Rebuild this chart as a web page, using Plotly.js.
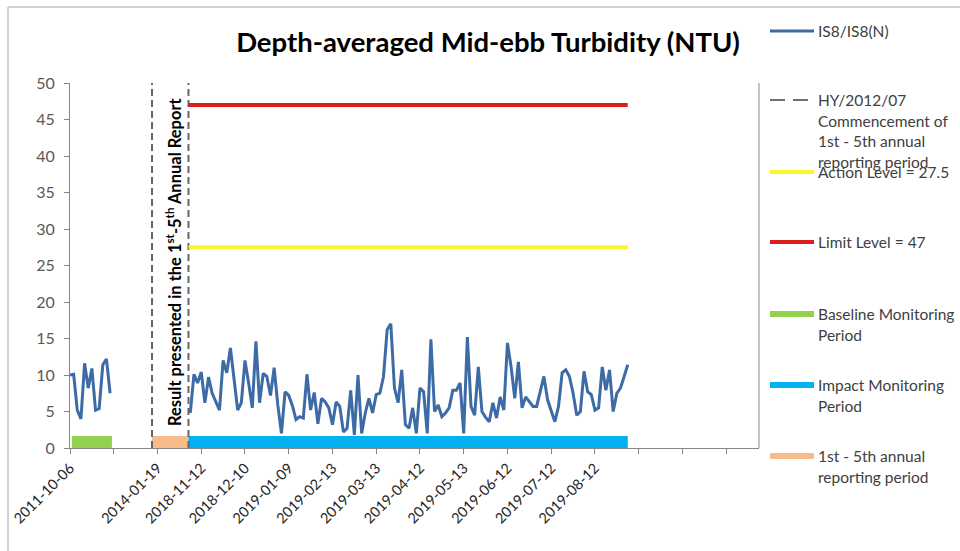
<!DOCTYPE html>
<html>
<head>
<meta charset="utf-8">
<script src="https://cdn.plot.ly/plotly-3.0.1.min.js"></script>
<style>html,body{margin:0;padding:0;background:#fff}#chart{width:960px;height:551px}</style>
</head>
<body>
<div id="chart"></div>
<script>
// ---- data ----
const tickLabels = ['2011-10-06','','2014-01-19','2018-11-12','2018-12-10','2019-01-09','2019-02-13',
  '2019-03-13','2019-04-12','2019-05-13','2019-06-12','2019-07-12','2019-08-12','','',''];
const categoriesPerTick = 12;
const categoryCount = 189;

const baselineStart = 0;
const baselineValues = [10.0, 10.1, 5.2, 4.0, 11.6, 8.2, 10.9, 5.2, 5.4, 11.4, 12.2, 7.5];

const impactStart = 33;
const impactValues = [
  4.8, 10.1, 8.9, 10.4, 6.2, 9.7, 7.5, 6.3, 5.2, 12.0,
  10.3, 13.7, 9.0, 5.2, 6.2, 12.0, 8.9, 5.5, 14.6, 6.2,
  10.2, 9.8, 7.2, 11.0, 5.9, 2.0, 7.7, 7.2, 5.8, 3.9,
  4.3, 4.1, 10.1, 5.2, 7.6, 3.3, 6.8, 6.3, 5.5, 3.2,
  6.3, 5.7, 2.2, 2.7, 7.9, 1.8, 10.0, 2.0, 4.8, 6.8,
  4.8, 7.3, 7.5, 9.8, 16.2, 17.0, 8.2, 6.2, 10.7, 3.2,
  2.7, 5.5, 2.0, 8.2, 7.7, 2.0, 14.9, 5.0, 5.9, 4.3,
  4.8, 5.5, 7.9, 7.9, 8.9, 2.0, 15.2, 5.7, 4.5, 11.1,
  5.0, 4.2, 3.6, 6.2, 4.1, 7.0, 5.2, 14.4, 11.1, 6.8,
  11.8, 5.5, 7.0, 6.3, 5.7, 5.7, 7.6, 9.8, 6.6, 5.0,
  3.6, 5.7, 10.3, 10.7, 9.8, 7.5, 4.5, 5.0, 10.5, 7.7,
  7.3, 5.2, 5.5, 11.1, 7.9, 10.7, 5.0, 7.5, 8.2, 9.8, 11.4
];

const actionLevel = 27.5;
const limitLevel = 47;
const periodMarkers = [22.5, 32.5];           // dashed lines: start / end of 1st-5th reporting period
const baselinePeriod = [0.5, 11.5];
const reportingPeriod = [22.5, 32.5];
const impactPeriod = [32.5, 153];
const periodBandHeight = 1.65;

// ---- build traces ----
const idx = (start, arr) => arr.map((_, i) => start + i);

const seriesColor = '#3d6ba6';
const traces = [];

function band(range, color) {
  traces.push({x: [range[0], range[1]], y: [periodBandHeight, periodBandHeight], mode: 'none',
    fill: 'tozeroy', fillcolor: color, hoverinfo: 'skip', type: 'scatter'});
}
band(baselinePeriod, '#92d050');
band(reportingPeriod, '#f6bd8a');
band(impactPeriod, '#00b0f0');

periodMarkers.forEach(m => traces.push({x: [m, m], y: [0, 50], mode: 'lines',
  line: {color: '#666666', width: 2, dash: '7px,4px'}, type: 'scatter'}));

traces.push({x: [impactPeriod[0], impactPeriod[1]], y: [actionLevel, actionLevel], mode: 'lines',
  line: {color: '#f7f72a', width: 4}, type: 'scatter'});
traces.push({x: [impactPeriod[0], impactPeriod[1]], y: [limitLevel, limitLevel], mode: 'lines',
  line: {color: '#dd1c1c', width: 4}, type: 'scatter'});

traces.push({x: idx(baselineStart, baselineValues), y: baselineValues, mode: 'lines',
  line: {color: seriesColor, width: 3}, type: 'scatter'});
traces.push({x: idx(impactStart, impactValues), y: impactValues, mode: 'lines',
  line: {color: seriesColor, width: 3}, type: 'scatter'});

// ---- layout helpers (pixel -> paper) ----
const L = 70, R = 759, T = 83, B = 448;
const px = v => (v - L) / (R - L);
const py = v => (B - v) / (B - T);

const shapes = [
  {type: 'line', xref: 'paper', yref: 'paper', x0: 1, x1: 1, y0: 0, y1: 1, line: {color: '#868686', width: 1}},
  {type: 'line', xref: 'paper', yref: 'paper', x0: px(8), x1: px(960), y0: py(7), y1: py(7), line: {color: '#a6a6a6', width: 1}},
  {type: 'line', xref: 'paper', yref: 'paper', x0: px(8), x1: px(8), y0: py(7), y1: py(551), line: {color: '#a6a6a6', width: 1}}
];

const legendItems = [
  {y: 31, color: seriesColor, width: 3, dash: 'solid', lines: ['IS8/IS8(N)']},
  {y: 100, color: '#6f6f6f', width: 2, dash: '15px,8px', lines: ['HY/2012/07', 'Commencement of', '1st - 5th annual', 'reporting period']},
  {y: 172, color: '#f7f72a', width: 4, dash: 'solid', lines: ['Action Level = 27.5']},
  {y: 242, color: '#dd1c1c', width: 4, dash: 'solid', lines: ['Limit Level = 47']},
  {y: 314, color: '#92d050', width: 6, dash: 'solid', lines: ['Baseline Monitoring', 'Period']},
  {y: 385, color: '#00b0f0', width: 6, dash: 'solid', lines: ['Impact Monitoring', 'Period']},
  {y: 456, color: '#f6bd8a', width: 6, dash: 'solid', lines: ['1st - 5th annual', 'reporting period']}
];
const annotations = [];
legendItems.forEach(it => {
  shapes.push({type: 'line', xref: 'paper', yref: 'paper', x0: px(770), x1: px(814), y0: py(it.y), y1: py(it.y),
    line: {color: it.color, width: it.width, dash: it.dash}});
  it.lines.forEach((t, k) => annotations.push({xref: 'paper', yref: 'paper', x: px(816), y: py(it.y + k * 20.7),
    xanchor: 'left', yanchor: 'middle', text: t, showarrow: false,
    font: {family: 'Lato, sans-serif', size: 15.5, color: '#404040'}}));
});

annotations.push({xref: 'x', yref: 'y', x: 28.6, y: 25.5, textangle: -90, showarrow: false,
  text: '<b>Result presented in the 1<sup>st</sup>-5<sup>th</sup> Annual Report</b>',
  font: {family: 'Lato, sans-serif', size: 16.5, color: '#000'}});

const layout = {
  width: 960, height: 551,
  margin: {l: L, r: 960 - R, t: T, b: 551 - B, pad: 0},
  paper_bgcolor: '#fff', plot_bgcolor: '#fff',
  showlegend: false,
  font: {family: 'Lato, sans-serif', color: '#404040'},
  title: {text: '<b>Depth-averaged Mid-ebb Turbidity (NTU)</b>', x: 488 / 960, xanchor: 'center',
    y: 1 - 42 / 551, yanchor: 'middle', font: {family: 'Lato, sans-serif', size: 27.5, color: '#000'}},
  xaxis: {range: [0, categoryCount], tickvals: tickLabels.map((_, i) => i * categoriesPerTick), ticktext: tickLabels,
    tickangle: -45, ticks: 'outside', ticklen: 5, tickcolor: '#868686', showline: true, linecolor: '#868686',
    linewidth: 1, showgrid: false, zeroline: false, tickfont: {size: 14.5, color: '#262626'}},
  yaxis: {range: [0, 50], dtick: 5, tick0: 0, ticks: 'outside', ticklen: 5, tickcolor: '#868686', showline: true,
    linecolor: '#868686', linewidth: 1, showgrid: false, zeroline: false, ticklabelstandoff: 6,
    tickfont: {size: 16, color: '#595959'}},
  shapes: shapes,
  annotations: annotations
};

Plotly.newPlot('chart', traces, layout, {staticPlot: true, displayModeBar: false});
</script>
</body>
</html>
